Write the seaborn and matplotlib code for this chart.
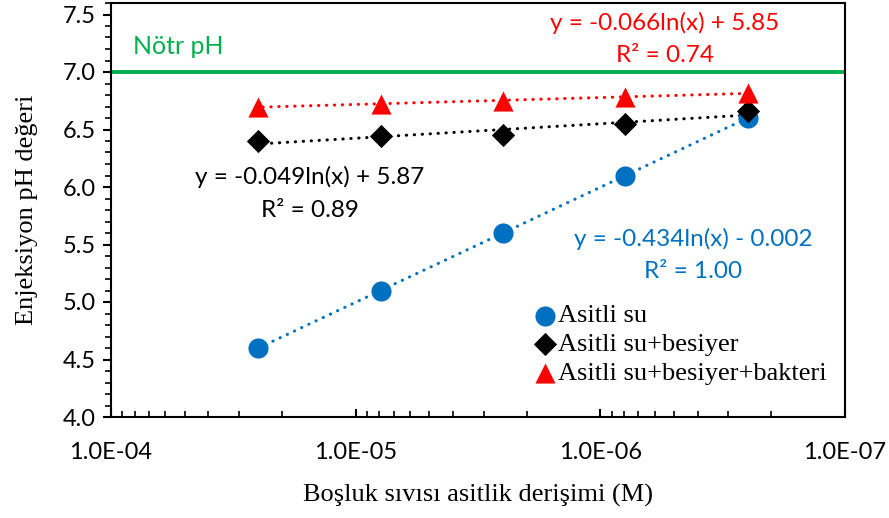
import numpy as np
import matplotlib
matplotlib.use("Agg")
import matplotlib.pyplot as plt
import seaborn as sns
from matplotlib.ticker import LogLocator, FixedLocator, MultipleLocator, NullFormatter

sns.set_theme(style="white")
plt.rcParams['font.family'] = ['Lato', 'DejaVu Sans']

# ---- data ----
conc = [2.5e-5, 7.9e-6, 2.5e-6, 7.9e-7, 2.5e-7]
ph_asitli = [4.60, 5.10, 5.60, 6.10, 6.60]
ph_besiyer = [6.40, 6.44, 6.45, 6.55, 6.66]
ph_bakteri = [6.70, 6.72, 6.75, 6.78, 6.82]
labels = ["Asitli su", "Asitli su+besiyer", "Asitli su+besiyer+bakteri"]
colors = ["#0070C0", "#000000", "#FF0000"]
markers = ["o", "D", "^"]
sizes = [210, 140, 210]
equations = [("y = -0.434ln(x) - 0.002", "R² = 1.00"),
             ("y = -0.049ln(x) + 5.87", "R² = 0.89"),
             ("y = -0.066ln(x) + 5.85", "R² = 0.74")]
xticks = [1e-4, 1e-5, 1e-6, 1e-7]
xticklabels = ["1.0E-04", "1.0E-05", "1.0E-06", "1.0E-07"]
neutral_ph = 7.0

W, H = 889, 518
fig = plt.figure(figsize=(W / 100, H / 100), dpi=100)
ax = fig.add_axes([111 / W, 1 - 417 / H, (845 - 111) / W, (417 - 3) / H])

series = [ph_asitli, ph_besiyer, ph_bakteri]
x = np.array(conc)
for vals, lab, col, mk, sz in zip(series, labels, colors, markers, sizes):
    # logarithmic trend line
    a, b = np.polyfit(np.log(x), np.array(vals), 1)
    xs = np.logspace(np.log10(x.min()), np.log10(x.max()), 100)
    ax.plot(xs, a * np.log(xs) + b, linestyle=(0, (0.1, 2.5)), color=col,
            lw=2.2, dash_capstyle="round", zorder=2)
    sns.scatterplot(x=conc, y=vals, marker=mk, color=col, s=sz, linewidth=0,
                    label=lab, ax=ax, zorder=3)

ax.axhline(neutral_ph, color="#00B050", lw=2.8, zorder=1)

ax.set_xscale("log")
ax.set_xlim(1e-4, 1e-7)
ax.set_ylim(4.0, 7.6)
ax.xaxis.set_major_locator(FixedLocator(xticks))
ax.set_xticklabels(xticklabels)
ax.xaxis.set_minor_locator(LogLocator(base=10, subs=np.arange(2, 10)))
ax.xaxis.set_minor_formatter(NullFormatter())
ax.yaxis.set_major_locator(MultipleLocator(0.5))
ax.yaxis.set_minor_locator(MultipleLocator(0.1))
ax.yaxis.set_major_formatter(matplotlib.ticker.FormatStrFormatter("%.1f"))

for s in ax.spines.values():
    s.set_color("black")
    s.set_linewidth(1.5)
ax.tick_params(axis="x", which="major", direction="in", length=6, width=1.5,
               color="black", labelsize=17, pad=18, labelcolor="black")
ax.tick_params(axis="x", which="minor", direction="in", length=4.5, width=1.2,
               color="black")
ax.tick_params(axis="y", which="major", direction="out", length=6, width=1.5,
               color="black", labelsize=17, pad=5, labelcolor="black", left=True)
ax.tick_params(axis="y", which="minor", direction="out", length=4.5, width=1.2,
               color="black", left=True)
ax.tick_params(axis="x", which="both", bottom=True)

serif = ["Liberation Serif", "DejaVu Serif"]
ax.set_xlabel("Boşluk sıvısı asitlik derişimi (M)", fontsize=19, family=serif,
              color="black", labelpad=15)
ax.set_ylabel("Enjeksiyon pH değeri", fontsize=19, family=serif,
              color="black", labelpad=18)

def ftext(px, py, s, col, size=17.5, **kw):
    fig.text(px / W, 1 - py / H, s, color=col, fontsize=size,
             ha="center", va="center", **kw)

ftext(178, 46, "Nötr pH", "#00B050", size=18)
# red
ftext(665, 23, equations[2][0], colors[2])
ftext(665, 55, equations[2][1], colors[2])
# black
ftext(310, 177, equations[1][0], colors[1])
ftext(310, 210, equations[1][1], colors[1])
# blue
ftext(693, 239, equations[0][0], colors[0])
ftext(693, 271, equations[0][1], colors[0])

leg = ax.legend(loc="upper left", bbox_to_anchor=(534 / W, 1 - 304 / H),
                bbox_transform=fig.transFigure, frameon=False, borderpad=0,
                borderaxespad=0, handlelength=0.8, handletextpad=0.1,
                labelspacing=0.2, prop={"family": serif, "size": 19})
for t in leg.get_texts():
    t.set_color("black")

fig.savefig("out.png", dpi=100, facecolor="white")
